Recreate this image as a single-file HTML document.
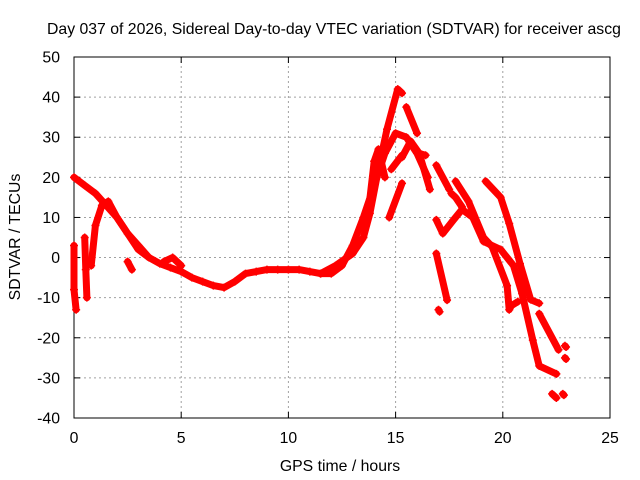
<!DOCTYPE html>
<html><head><meta charset="utf-8"><style>
body{margin:0;background:#fff}
svg{display:block;font-family:"Liberation Sans",sans-serif}
</style></head><body>
<svg id="chart" width="640" height="480" viewBox="0 0 640 480" xmlns="http://www.w3.org/2000/svg">
<text x="47" y="34" font-size="15.8">Day 037 of 2026, Sidereal Day-to-day VTEC variation (SDTVAR) for receiver ascg</text>
<g id="grid"></g>
<g id="axes"></g>
<g id="series"></g>
<text x="340" y="471" font-size="15.8" text-anchor="middle">GPS time / hours</text>
<text transform="translate(20,237) rotate(-90)" font-size="15.8" text-anchor="middle">SDTVAR / TECUs</text>
</svg>
<script>
const xTicks=[0,5,10,15,20,25];
const yTicks=[50,40,30,20,10,0,-10,-20,-30,-40];
// each arc: alternating hours, TECU values
const arcHours=[
[0,0.5,1,1.5,2,2.5,3,3.5,4,4.5,5,5.5,6,6.5,7,7.5,8,8.5,9,9.5,10,10.5,11,11.5,12,12.5,13,13.5,14,14.5,15,15.5,16,16.5],
[11.5,12.2,13,13.5,13.8,14.2,14.6,15.1,15.3],
[15.5,16],
[0.8,1,1.3,1.6,2,2.5,3,3.5],
[0,0,0.1],
[0.5,0.55,0.6],
[2.5,2.7],
[13.7,14,14.2,14.5],
[14.7,15.3],
[14.8,15.3],
[15.3,15.7,16.1,16.6],
[16.1,16.4],
[16.9,17.5],
[17.6,17.8,18.1],
[16.9,17.2,17.7,18.1,18.6,19.1,19.9,20.5,20.9,21.4,21.7,22.5],
[17.8,18.4,19.1,19.5,20.2,20.3,20.4,20.7],
[19.2,19.9,20.3,20.8,21.3,21.7],
[21.7,22.6],
[16.9,17.4],
[17,17.05],
[22.9,22.95],
[22.9,22.95],
[22.3,22.5],
[22.8,22.85],
[4.2,4.6,5]
];
const arcValues=[
[20,18,16,13,10,6,2,0,-1.5,-2.5,-3.5,-5,-6,-7,-7.5,-6,-4,-3.5,-3,-3,-3,-3,-3.5,-4,-4,-2,3,10,18,26,31,30,26,20],
[-4,-2,1,5,11,22,32,42,41],
[37.5,31],
[-2,8,13,14,10,6,3,0],
[3,-8,-13],
[5,-3,-10],
[-1,-3],
[10,24,27,20],
[10,18.5],
[22,25.5],
[25,29,26,17],
[26,25.5],
[23,17],
[16,15,12.6],
[9.4,6,9.4,12,10,4,2,-2,-9,-20.6,-27,-29],
[19,14,5,2.7,-7,-13,-12,-11],
[19,15,8.5,-1.5,-10.5,-11.4],
[-14,-23],
[1,-10.6],
[-13,-13.5],
[-22,-22.3],
[-25,-25.3],
[-34,-35],
[-34,-34.3],
[-1,0,-2]
];
const X0=74,X1=610,Y0=418,Y1=57,XMIN=0,XMAX=25,YMIN=-40,YMAX=50;
function sx(h){return X0+(h-XMIN)/(XMAX-XMIN)*(X1-X0);}
function sy(v){return Y0-(v-YMIN)/(YMAX-YMIN)*(Y0-Y1);}
const NS="http://www.w3.org/2000/svg";
function mk(tag,attrs,parent){const e=document.createElementNS(NS,tag);for(const k in attrs)e.setAttribute(k,attrs[k]);parent.appendChild(e);return e;}
const grid=document.getElementById('grid'),axes=document.getElementById('axes'),series=document.getElementById('series');
xTicks.forEach(t=>{
  const x=sx(t);
  if(t>XMIN&&t<XMAX){const g=mk('line',{x1:x,x2:x,y1:Y0,y2:Y1,stroke:'#a0a0a0','stroke-dasharray':'2,3','stroke-width':1},grid);
  
  }
  const tk=mk('line',{x1:x,x2:x,y1:Y0,y2:Y0-6,stroke:'#000'},axes);
  
  
  const tk2=mk('line',{x1:x,x2:x,y1:Y1,y2:Y1+6,stroke:'#000'},axes);
  
  
  const l=mk('text',{x:x,y:Y0+25,'font-size':'15.8','text-anchor':'middle'},axes);l.textContent=t;
  
  
});
yTicks.forEach(t=>{
  const y=sy(t);
  if(t>YMIN&&t<YMAX){const g=mk('line',{x1:X0,x2:X1,y1:y,y2:y,stroke:'#a0a0a0','stroke-dasharray':'2,3','stroke-width':1},grid);
  
  }
  const tk=mk('line',{x1:X0,x2:X0+6,y1:y,y2:y,stroke:'#000'},axes);
  
  
  const tk2=mk('line',{x1:X1,x2:X1-6,y1:y,y2:y,stroke:'#000'},axes);
  
  
  const l=mk('text',{x:X0-14,y:y+5.5,'font-size':'15.8','text-anchor':'end'},axes);l.textContent=t;
  
  
});
const border=mk('rect',{x:X0,y:Y1,width:X1-X0,height:Y0-Y1,fill:'none',stroke:'#000'},axes);


arcHours.forEach((hs,i)=>{
  const vs=arcValues[i];
  const pts=hs.map((h,j)=>sx(h).toFixed(1)+','+sy(vs[j]).toFixed(1)).join(' ');
  const pl=mk('polyline',{points:pts,fill:'none',stroke:'#ff0000','stroke-width':7,'stroke-linejoin':'round','stroke-linecap':'round'},series);
  
  
  hs.forEach((h,j)=>{
    const x=sx(h),y=sy(vs[j]);
    const p=mk('path',{d:`M${x-4},${y}H${x+4}M${x},${y-4}V${y+4}`,stroke:'#ff0000','stroke-width':1.5},series);
    
    
  });
});
</script>
</body></html>
